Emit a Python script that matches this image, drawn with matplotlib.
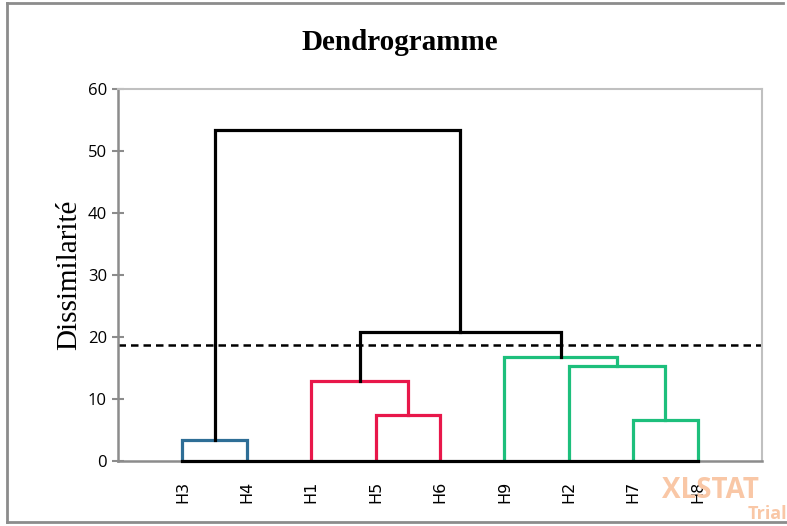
import matplotlib.pyplot as plt
from matplotlib.lines import Line2D

leaves = ['H3', 'H4', 'H1', 'H5', 'H6', 'H9', 'H2', 'H7', 'H8']
# merges: (child a, child b, height) ; leaves are 0..8, new nodes get 9, 10, ...
merges = [(0, 1, 3.4), (3, 4, 7.4), (2, 10, 12.9), (7, 8, 6.6),
          (6, 12, 15.3), (5, 13, 16.8), (11, 14, 20.8), (9, 15, 53.4)]
merge_colors = ['#2e6e96', '#e8174a', '#e8174a', '#1dbf7c',
                '#1dbf7c', '#1dbf7c', 'black', 'black']
cut_level = 18.7
yticks = [0, 10, 20, 30, 40, 50, 60]

fig = plt.figure(figsize=(7.87, 5.26), dpi=100)
ax = fig.add_axes([118/787, 65/526, 644/787, 372/526])

# positions of nodes
xpos = {i: i + 1 for i in range(len(leaves))}
ypos = {i: 0.0 for i in range(len(leaves))}
for k, (a, b, h) in enumerate(merges):
    c = merge_colors[k]
    ax.plot([xpos[a], xpos[a], xpos[b], xpos[b]], [ypos[a], h, h, ypos[b]],
            color=c, lw=2.3, solid_joinstyle='miter', zorder=3)
    node = len(leaves) + k
    xpos[node] = (xpos[a] + xpos[b]) / 2
    ypos[node] = h

# baseline under leaves
ax.plot([1, len(leaves)], [0, 0], color='black', lw=2.3, zorder=4, clip_on=False)
ax.axhline(cut_level, color='black', lw=1.8, ls=(0, (3, 2)), zorder=2)

ax.set_xlim(0, 10)
ax.set_ylim(0, 60)
ax.set_yticks(yticks)
ax.set_yticklabels([str(t) for t in yticks], fontsize=12, family='Open Sans')
ax.set_xticks(range(1, len(leaves) + 1))
ax.set_xticklabels(leaves, rotation=90, fontsize=11.5, family='DejaVu Sans')
ax.tick_params(axis='x', length=0, pad=14)
ax.tick_params(axis='y', direction='inout', length=8, width=1.5, color='#8c8c8c', pad=4)
for s in ['top', 'right']:
    ax.spines[s].set_color('#c0c0c0')
    ax.spines[s].set_linewidth(1.5)
for s in ['left', 'bottom']:
    ax.spines[s].set_color('#8c8c8c')
    ax.spines[s].set_linewidth(1.8)

ax.set_ylabel('Dissimilarité', family='Liberation Serif', fontsize=21, labelpad=4)
fig.text(400/787, 1 - 42/526, 'Dendrogramme', ha='center', va='center',
         family='Liberation Serif', fontweight='bold', fontsize=21)

# watermark (overlaps H8 label as in the original)
fig.text(662/787, 1 - 491/526, 'XLSTAT', color='#f9c7a6', fontsize=20, fontweight='bold',
         family='Open Sans', va='center', ha='left', zorder=0)
fig.text(787/787, 1 - 514/526, 'Trial', color='#f9c7a6', fontsize=13, fontweight='bold',
         family='Open Sans', va='center', ha='right', zorder=0)

# outer frame
for xs, ys in [([7, 7], [3, 522]), ([7, 783], [3, 3]), ([7, 787], [522, 522])]:
    fig.add_artist(Line2D([x/787 for x in xs], [1 - y/526 for y in ys],
                          color='#8c8c8c', lw=2))

fig.savefig('out.png', dpi=100)
